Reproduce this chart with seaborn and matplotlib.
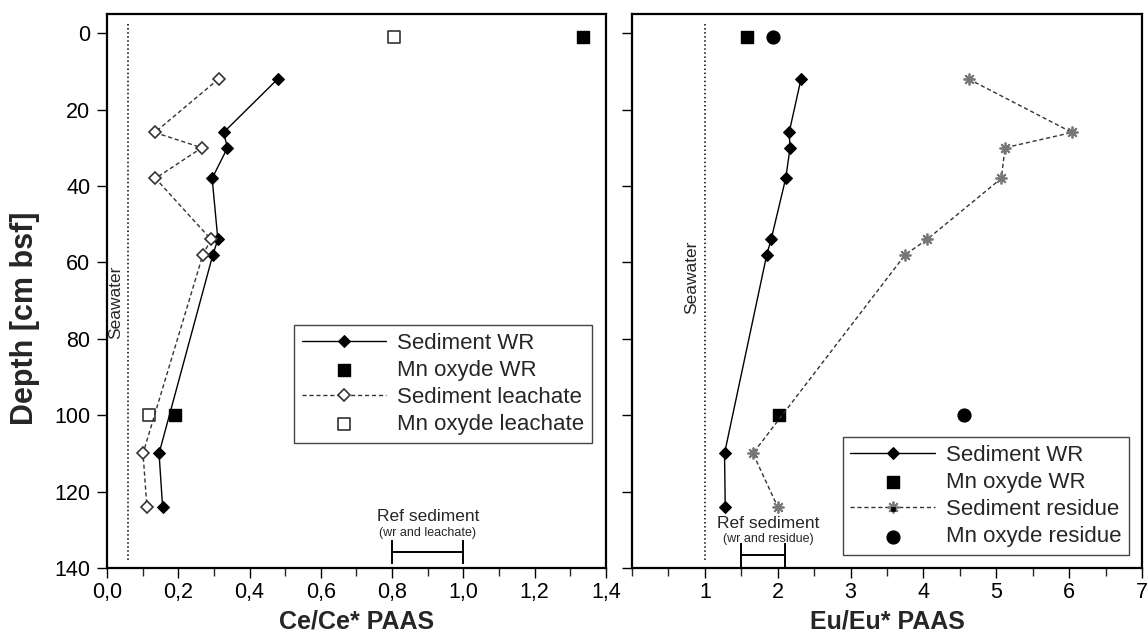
import matplotlib
matplotlib.use("Agg")
import matplotlib.pyplot as plt
from matplotlib.ticker import MultipleLocator, FixedLocator, FuncFormatter, NullFormatter
import seaborn as sns

# ---------------- data ----------------
depth_sed = [12, 26, 30, 38, 54, 58, 110, 124]
ce_sed_wr = [0.479, 0.327, 0.338, 0.295, 0.311, 0.297, 0.146, 0.156]
ce_sed_leach = [0.313, 0.134, 0.266, 0.136, 0.292, 0.269, 0.101, 0.112]
depth_mn = [1, 100]
ce_mn_wr = [1.336, 0.192]
ce_mn_leach = [0.806, 0.117]

eu_sed_wr = [2.32, 2.157, 2.17, 2.11, 1.91, 1.85, 1.27, 1.28]
eu_sed_res = [4.62, 6.04, 5.12, 5.07, 4.05, 3.75, 1.66, 2.00]
eu_mn_wr = [1.575, 2.015]
eu_mn_res = [1.93, 4.56]

seawater_ce = 0.059
seawater_eu = 1.0
seawater_depth = [-2.5, 138]
ref_ce = [0.8, 1.0]
ref_eu = [1.5, 2.1]
ref_depth = 135.8

ce_ticks = [0.0, 0.2, 0.4, 0.6, 0.8, 1.0, 1.2, 1.4]
eu_ticks = [1, 2, 3, 4, 5, 6, 7]
depth_ticks = [0, 20, 40, 60, 80, 100, 120, 140]

# ---------------- style ----------------
sns.set_style("ticks")
plt.rcParams["font.family"] = ["Liberation Sans", "DejaVu Sans"]

fig = plt.figure(figsize=(11.47, 6.35), dpi=100)
axL = fig.add_axes([0.0933, 0.1055, 0.435, 0.8724])
axR = fig.add_axes([0.551, 0.1055, 0.4446, 0.8724])

dash = (0, (3, 2))
line_kw = dict(sort=False, estimator=None, orient="y")
leg_kw = dict(borderaxespad=0, fontsize=16, frameon=True, fancybox=False,
              edgecolor="#444444", framealpha=1, handlelength=3.8,
              handletextpad=0.5, labelspacing=0.28, borderpad=0.35)

# ---------- left panel: Ce/Ce* ----------
sns.lineplot(x=ce_sed_wr, y=depth_sed, ax=axL, color="black", lw=1.0,
             marker="D", markersize=6.5, markeredgecolor="black",
             label="Sediment WR", **line_kw)
sns.scatterplot(x=ce_mn_wr, y=depth_mn, ax=axL, marker="s", s=80,
                color="black", edgecolor="black", linewidth=1,
                label="Mn oxyde WR")
sns.lineplot(x=ce_sed_leach, y=depth_sed, ax=axL, color="#333333", lw=1.0,
             linestyle=dash, marker="D", markersize=6.5,
             markerfacecolor="white", markeredgecolor="#333333", markeredgewidth=1.2,
             label="Sediment leachate", **line_kw)
sns.scatterplot(x=ce_mn_leach, y=depth_mn, ax=axL, marker="s", s=80,
                color="white", edgecolor="#333333", linewidth=1.2,
                label="Mn oxyde leachate")

# seawater
sns.lineplot(x=[seawater_ce, seawater_ce], y=seawater_depth, ax=axL,
             color="black", lw=1.1, linestyle=":", **line_kw)
axL.text(seawater_ce - 0.013, 70.5, "Seawater", rotation=90, ha="right",
         va="center", fontsize=12.5)

# reference sediment
axL.errorbar([sum(ref_ce) / 2], [ref_depth], xerr=[(ref_ce[1] - ref_ce[0]) / 2],
             fmt="none", ecolor="black", elinewidth=1.4, capsize=8.5, capthick=1.4)
axL.text(sum(ref_ce) / 2, 126.4, "Ref sediment", ha="center", va="center", fontsize=12.5)
axL.text(sum(ref_ce) / 2, 130.8, "(wr and leachate)", ha="center", va="center", fontsize=9)

axL.set_xlim(0, 1.4)
axL.set_ylim(140, -5)
axL.xaxis.set_major_locator(FixedLocator(ce_ticks))
axL.xaxis.set_minor_locator(MultipleLocator(0.1))
axL.xaxis.set_major_formatter(FuncFormatter(lambda v, p: f"{v:.1f}".replace(".", ",")))
axL.yaxis.set_major_locator(FixedLocator(depth_ticks))
axL.set_xlabel("Ce/Ce* PAAS", fontsize=18, fontweight="bold", labelpad=5)
axL.set_ylabel("Depth [cm bsf]", fontsize=22, fontweight="bold", labelpad=8)
axL.yaxis.set_label_coords(-0.135, 0.45)

hL, lL = axL.get_legend_handles_labels()
axL.legend(hL, lL, loc="upper right", bbox_to_anchor=(0.972, 0.439), **leg_kw)

# ---------- right panel: Eu/Eu* ----------
sns.lineplot(x=eu_sed_wr, y=depth_sed, ax=axR, color="black", lw=1.0,
             marker="D", markersize=6.5, markeredgecolor="black",
             label="Sediment WR", **line_kw)
sns.scatterplot(x=eu_mn_wr, y=depth_mn, ax=axR, marker="s", s=85,
                color="black", edgecolor="black", linewidth=1,
                label="Mn oxyde WR")
sns.lineplot(x=eu_sed_res, y=depth_sed, ax=axR, color="#333333", lw=1.0,
             linestyle=dash, marker=(8, 2, 0), markersize=8.5,
             markeredgecolor="#777777", markeredgewidth=1.3,
             label="Sediment residue", **line_kw)
sns.scatterplot(x=eu_sed_res, y=depth_sed, ax=axR, marker="s", s=5,
                color="black", edgecolor="black", linewidth=0.5)
center_coll = axR.collections[-1]
sns.scatterplot(x=eu_mn_res, y=depth_mn, ax=axR, marker="o", s=85,
                color="black", edgecolor="black", linewidth=1,
                label="Mn oxyde residue")

sns.lineplot(x=[seawater_eu, seawater_eu], y=seawater_depth, ax=axR,
             color="black", lw=1.1, linestyle=":", **line_kw)
axR.text(seawater_eu - 0.08, 64, "Seawater", rotation=90, ha="right",
         va="center", fontsize=12.5)

axR.errorbar([sum(ref_eu) / 2], [ref_depth + 0.8], xerr=[(ref_eu[1] - ref_eu[0]) / 2],
             fmt="none", ecolor="black", elinewidth=1.4, capsize=9, capthick=1.4)
axR.text(1.87, 128.3, "Ref sediment", ha="center", va="center", fontsize=12.5)
axR.text(1.87, 132.4, "(wr and residue)", ha="center", va="center", fontsize=9)

axR.set_xlim(0, 7)
axR.set_ylim(140, -5)
axR.xaxis.set_major_locator(FixedLocator(eu_ticks))
axR.xaxis.set_minor_locator(FixedLocator([0, 0.5, 1.5, 2.5, 3.5, 4.5, 5.5, 6.5]))
axR.yaxis.set_major_locator(FixedLocator(depth_ticks))
axR.yaxis.set_major_formatter(NullFormatter())
axR.set_xlabel("Eu/Eu* PAAS", fontsize=18, fontweight="bold", labelpad=5)
axR.set_ylabel("")

hR, lR = axR.get_legend_handles_labels()
hR[2] = (hR[2], center_coll)
axR.legend(hR, lR, loc="lower right", bbox_to_anchor=(0.975, 0.023), **leg_kw)

for ax in (axL, axR):
    for s in ax.spines.values():
        s.set_visible(True)
        s.set_linewidth(1.6)
        s.set_color("black")
    ax.tick_params(axis="both", which="major", direction="out", length=7,
                   width=1.0, labelsize=15.5, colors="black")
    ax.tick_params(axis="x", which="major", pad=3)
    ax.tick_params(axis="y", which="major", pad=5)
    ax.tick_params(axis="both", which="minor", direction="out", length=5.5, width=1.0)
    ax.grid(False)

fig.savefig("out.png", dpi=100)
